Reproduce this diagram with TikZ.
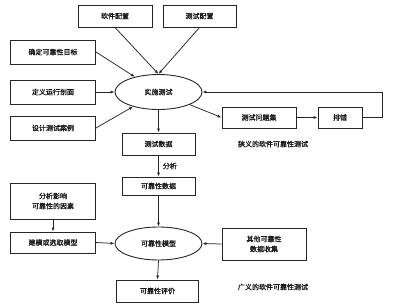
\documentclass[tikz,border=0pt]{standalone}
\usepackage{fontspec}
\setmainfont{Noto Sans CJK SC}[FakeBold=1.2]
\usetikzlibrary{shapes.geometric,arrows.meta}
\begin{document}
\begin{tikzpicture}[x=1pt,y=-1pt,
  every node/.style={font=\fontsize{7}{10}\selectfont, text=black!90},
  box/.style={draw=black!85, line width=0.9pt, minimum width=#1, inner sep=0pt, align=center},
  ell/.style={draw=black!85, line width=0.9pt, ellipse, minimum width=87pt, minimum height=35pt, inner sep=0pt},
  arr/.style={draw=black!85, line width=0.75pt, -{Latex[length=4pt,width=3pt]}},
  lbl/.style={inner sep=0pt}]
\useasboundingbox (0,0) rectangle (400,308);
\node[box=74pt, minimum height=22pt] (sw) at (115,16) {软件配置};
\node[box=73pt, minimum height=22pt] (tc) at (199.5,16) {测试配置};
\node[box=85pt, minimum height=24pt] (goal) at (53,52) {确定可靠性目标};
\node[box=85pt, minimum height=24pt] (prof) at (53,92) {定义运行剖面};
\node[box=85pt, minimum height=24pt] (case) at (53,128) {设计测试案例};
\node[ell] (e1) at (158.5,92) {实施测试};
\node[box=74pt, minimum height=21pt] (tp) at (259,117.5) {测试问题集};
\node[box=44pt, minimum height=21pt] (fix) at (340,117.5) {排错};
\node[lbl] (n1) at (273,144) {狭义的软件可靠性测试};
\node[box=73pt, minimum height=22pt] (td) at (158.5,144) {测试数据};
\node[box=73pt, minimum height=18pt] (rd) at (158.5,186) {可靠性数据};
\node[box=85pt, minimum height=36pt] (fac) at (53,201) {分析影响\\可靠性的因素};
\node[box=85pt, minimum height=21pt] (mod) at (53,242.5) {建模或选取模型};
\node[ell, minimum height=33pt] (e2) at (158.5,243.5) {可靠性模型};
\node[box=84pt, minimum height=32pt] (other) at (264,244) {其他可靠性\\数据收集};
\node[box=82pt, minimum height=22pt] (eval) at (157.5,291) {可靠性评价};
\node[lbl] (n2) at (273,287) {广义的软件可靠性测试};
\coordinate (fb) at (382,117.5);
\draw[arr] (sw.south) -- (e1.north);
\draw[arr] (tc.south) -- (e1.north);
\draw[arr] (goal.east) -- (e1);
\draw[arr] (prof.east) -- (e1.west);
\draw[arr] (case.east) -- (e1);
\draw[arr] (e1) -- (tp.west);
\draw[arr] (tp.east) -- (fix.west);
\draw[arr] (fix.east) -- (fb) |- (e1.east);
\draw[arr] (e1.south) -- (td.north);
\draw[arr] (td.south) -- node[right, xshift=4pt, lbl] (ana) {分析} (rd.north);
\draw[arr] (rd.south) -- (e2.north);
\draw[arr] (fac.south) -- (mod.north);
\draw[arr] (mod.east) -- (e2.west);
\draw[arr] (other.west) -- (e2.east);
\draw[arr] (e2.south) -- (eval.north);
\end{tikzpicture}
\end{document}
